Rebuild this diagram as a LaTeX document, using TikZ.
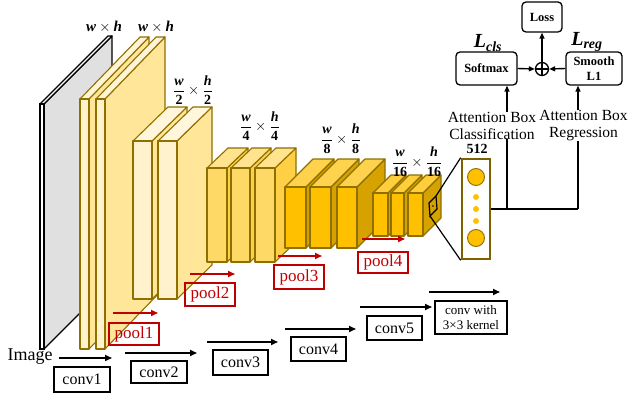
\documentclass[tikz,border=0pt]{standalone}
\usepackage{amsmath}
\usepackage{fontspec}
\setmainfont{Liberation Serif}
\usetikzlibrary{arrows.meta}
\definecolor{edgegold}{HTML}{8F6F00}
\definecolor{boxbrown}{HTML}{7F6000}
\definecolor{poolred}{HTML}{C00000}
\definecolor{aFront}{HTML}{FFF2CC}\definecolor{aTop}{HTML}{FFF5D6}\definecolor{aSide}{HTML}{FFE699}
\definecolor{bFront}{HTML}{FFF2CC}\definecolor{bTop}{HTML}{FFF6DC}\definecolor{bSide}{HTML}{FFE699}
\definecolor{cFront}{HTML}{FFD966}\definecolor{cTop}{HTML}{FFE38F}\definecolor{cSide}{HTML}{FFCF45}
\definecolor{dFront}{HTML}{FFC000}\definecolor{dTop}{HTML}{FFD24D}\definecolor{dSide}{HTML}{D6A200}
\definecolor{eFront}{HTML}{FFC000}\definecolor{eTop}{HTML}{FFCE3C}\definecolor{eSide}{HTML}{D6A200}
\definecolor{imgSide}{HTML}{E0E0E0}
\newcommand{\bi}[1]{\textbf{\textit{#1}}}
\newcommand{\slabbox}[9]{%
  \filldraw[fill=#9, slabline] (#2,#3) -- (#2+#5,#3-#6) -- (#2+#5,#4-#6) -- (#2,#4) -- cycle;
  \filldraw[fill=#8, slabline] (#1,#3) -- (#1+#5,#3-#6) -- (#2+#5,#3-#6) -- (#2,#3) -- cycle;
  \filldraw[fill=#7, slabline] (#1,#3) rectangle (#2,#4);
}
\tikzset{
  slabline/.style={draw=edgegold, line width=1.1pt, line join=round},
  convbox/.style={draw=black, line width=1.3pt, inner sep=0pt, font=\fontsize{16}{18}\selectfont},
  convarrow/.style={draw=black, line width=1.6pt, -{Triangle[length=7pt,width=6pt]}},
  poolbox/.style={draw=poolred, line width=1.1pt, inner sep=0pt, text=poolred, minimum width=50pt, font=\fontsize{17}{19}\selectfont},
  poolarrow/.style={draw=poolred, line width=1.6pt, -{Triangle[length=7pt,width=6pt]}},
  lossbox/.style={draw=black, line width=1.3pt, rounded corners=4pt, inner sep=0pt, align=center, font=\bfseries\fontsize{12.5}{15}\selectfont},
  dimlabel/.style={inner sep=0pt, font=\fontsize{14}{16}\selectfont},
  thinline/.style={draw=black, line width=1.4pt},
  uparrow/.style={draw=black, line width=1.4pt, -{Triangle[length=6pt,width=5pt]}},
  attn/.style={inner sep=0pt, align=center, font=\fontsize{15.5}{17}\selectfont}
}
\begin{document}
\begin{tikzpicture}[x=1pt,y=-1pt]
\useasboundingbox (0,0) rectangle (629,393);
% image plane
\filldraw[fill=imgSide, draw=black, line width=1.3pt, line join=round] (44,104) -- (112,36) -- (112,281) -- (44,349) -- cycle;
\filldraw[fill=white, draw=black, line width=1.3pt, line join=round] (40,104) -- (108,36) -- (112,36) -- (44,104) -- cycle;
\filldraw[fill=white, draw=black, line width=1.3pt] (40,104) rectangle (44,349);
% conv1
\slabbox{80}{89}{99}{349}{60}{62}{aFront}{aTop}{aSide}
\slabbox{96}{105}{99}{349}{60}{62}{aFront}{aTop}{aSide}
% conv2
\slabbox{133}{152}{141}{299}{35}{34}{bFront}{bTop}{bSide}
\slabbox{158}{177}{141}{299}{35}{34}{bFront}{bTop}{bSide}
% conv3
\slabbox{207}{227}{168}{262}{21}{20}{cFront}{cTop}{cSide}
\slabbox{231}{250}{168}{262}{21}{20}{cFront}{cTop}{cSide}
\slabbox{255}{275}{168}{262}{21}{20}{cFront}{cTop}{cSide}
% conv4
\slabbox{285}{306}{187}{248}{28}{28}{dFront}{dTop}{dSide}
\slabbox{310}{331}{187}{248}{28}{28}{dFront}{dTop}{dSide}
\slabbox{337}{357}{187}{248}{28}{28}{dFront}{dTop}{dSide}
% conv5
\slabbox{373}{388}{193}{236}{18}{18}{eFront}{eTop}{eSide}
\slabbox{391}{404}{193}{236}{18}{18}{eFront}{eTop}{eSide}
\slabbox{408}{423}{193}{236}{18}{18}{eFront}{eTop}{eSide}
% small window on conv5
\coordinate (sqa) at (429,203);
\coordinate (sqb) at (436,196);
\coordinate (sqc) at (437,209);
\coordinate (sqd) at (430,216);
\draw[black, line width=1.2pt] (sqa) -- (sqb) -- (sqc) -- (sqd) -- cycle;
\fill[black] (433,206) circle (0.9pt);
% dimension labels
\node[dimlabel, font=\fontsize{15}{17}\selectfont] (d1) at (104,27) {$\bi{w}\times\bi{h}$};
\node[dimlabel, font=\fontsize{15}{17}\selectfont] (d2) at (156,27) {$\bi{w}\times\bi{h}$};
\node[dimlabel] (d3) at (193,90) {$\dfrac{\bi{w}}{\textbf{2}}\times\dfrac{\bi{h}}{\textbf{2}}$};
\node[dimlabel] (d4) at (260,126) {$\dfrac{\bi{w}}{\textbf{4}}\times\dfrac{\bi{h}}{\textbf{4}}$};
\node[dimlabel] (d5) at (341,139) {$\dfrac{\bi{w}}{\textbf{8}}\times\dfrac{\bi{h}}{\textbf{8}}$};
\node[dimlabel] (d6) at (417,162) {$\dfrac{\bi{w}}{\textbf{16}}\times\dfrac{\bi{h}}{\textbf{16}}$};
% feature vector
\node[draw=boxbrown, line width=2.6pt, minimum width=28pt, minimum height=100pt, inner sep=0pt, fill=white] (fbox) at (476,209) {};
\node[dimlabel, font=\bfseries\fontsize{14}{16}\selectfont] (n512) at (477,149) {512};
\node[circle, draw=edgegold, line width=0.9pt, fill=dFront, minimum size=17pt, inner sep=0pt] (c1) at (476,177) {};
\node[circle, fill=dFront, minimum size=6pt, inner sep=0pt] (c2) at (476,197) {};
\node[circle, fill=dFront, minimum size=6pt, inner sep=0pt] (c3) at (476,209) {};
\node[circle, fill=dFront, minimum size=6pt, inner sep=0pt] (c4) at (476,221) {};
\node[circle, draw=edgegold, line width=0.9pt, fill=dFront, minimum size=17pt, inner sep=0pt] (c5) at (476,238) {};
\draw[black, line width=1.2pt] (sqb) -- (fbox.north west);
\draw[black, line width=1.2pt] (sqd) -- (fbox.south west);
% heads
\node[attn] (att1) at (492,125.5) {Attention Box\\Classification};
\node[attn] (att2) at (583.5,125.5) {Attention Box\\Regression};
\coordinate (j1) at (507,209);
\coordinate (j2) at (578,209);
\draw[thinline] (fbox.east) -- (j2);
\draw[thinline] (j1) -- (j1 |- att1.south);
\draw[thinline] (j2) -- (j2 |- att2.south);
\node[lossbox, minimum width=61pt, minimum height=33pt] (soft) at (486.5,68.5) {Softmax};
\node[lossbox, minimum width=56pt, minimum height=33pt] (smooth) at (594,68.5) {Smooth\\L1};
\node[lossbox, minimum width=40pt, minimum height=30pt] (loss) at (542,17) {Loss};
\node[circle, draw=black, line width=1.3pt, minimum size=13pt, inner sep=0pt] (plus) at (542,69) {};
\draw[black, line width=1.1pt] (plus.north) -- (plus.south) (plus.west) -- (plus.east);
\draw[uparrow] (att1.north -| j1) -- (soft.south -| j1);
\draw[uparrow] (att2.north -| j2) -- (smooth.south -| j2);
\draw[uparrow] (soft.east) -- (plus.west);
\draw[uparrow] (smooth.west) -- (plus.east);
\draw[uparrow] (plus.north) -- (loss.south);
\node[inner sep=0pt, font=\fontsize{20}{22}\selectfont] (lcls) at (488,43) {$\bi{L}_{\bi{cls}}$};
\node[inner sep=0pt, font=\fontsize{20}{22}\selectfont] (lreg) at (587,42) {$\bi{L}_{\bi{reg}}$};
% pool labels
\coordinate (p1a) at (113,313); \coordinate (p1b) at (158,313);
\coordinate (p2a) at (190,274); \coordinate (p2b) at (235,274);
\coordinate (p3a) at (278,256); \coordinate (p3b) at (322,256);
\coordinate (p4a) at (362,239); \coordinate (p4b) at (405,239);
\draw[poolarrow] (p1a) -- (p1b);
\draw[poolarrow] (p2a) -- (p2b);
\draw[poolarrow] (p3a) -- (p3b);
\draw[poolarrow] (p4a) -- (p4b);
\node[poolbox, minimum height=22pt] (pool1) at (134,334) {pool1};
\node[poolbox, minimum height=23pt] (pool2) at (210,294.5) {pool2};
\node[poolbox, minimum height=24pt] (pool3) at (299,277) {pool3};
\node[poolbox, minimum height=21pt] (pool4) at (383,262.5) {pool4};
% conv labels
\node[inner sep=0pt, font=\fontsize{18}{20}\selectfont] (img) at (30,357) {Image};
\coordinate (a1a) at (59,358); \coordinate (a1b) at (112,358);
\coordinate (a2a) at (125,353); \coordinate (a2b) at (197,353);
\coordinate (a3a) at (207,342); \coordinate (a3b) at (278,342);
\coordinate (a4a) at (285,329); \coordinate (a4b) at (356,329);
\coordinate (a5a) at (360,307); \coordinate (a5b) at (432,307);
\coordinate (a6a) at (429,292); \coordinate (a6b) at (500,292);
\draw[convarrow] (a1a) -- (a1b);
\draw[convarrow] (a2a) -- (a2b);
\draw[convarrow] (a3a) -- (a3b);
\draw[convarrow] (a4a) -- (a4b);
\draw[convarrow] (a5a) -- (a5b);
\draw[convarrow] (a6a) -- (a6b);
\node[convbox, minimum width=56pt, minimum height=25pt] (conv1) at (82,379.5) {conv1};
\node[convbox, minimum width=56pt, minimum height=22pt] (conv2) at (159,372) {conv2};
\node[convbox, minimum width=55pt, minimum height=25pt] (conv3) at (240.5,362.5) {conv3};
\node[convbox, minimum width=55pt, minimum height=24pt] (conv4) at (318.5,349) {conv4};
\node[convbox, minimum width=55pt, minimum height=24pt] (conv5) at (394.5,328) {conv5};
\node[convbox, minimum width=72pt, minimum height=33pt, align=center, font=\fontsize{13}{15}\selectfont] (conv6) at (471,317.5) {conv with\\3×3 kernel};
\end{tikzpicture}
\end{document}
